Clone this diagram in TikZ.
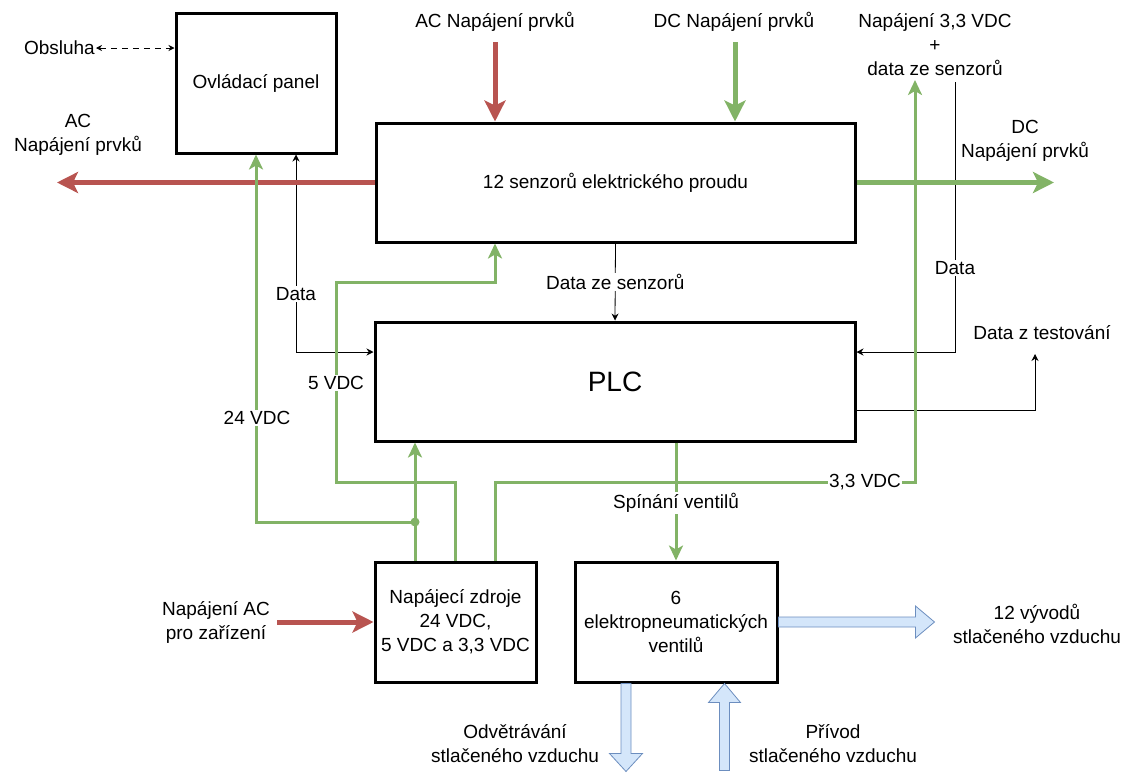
\documentclass[tikz,border=0pt]{standalone}
\usepackage{fontspec}
\setmainfont{Liberation Sans}
\usetikzlibrary{arrows.meta}

\definecolor{acred}{HTML}{B85450}
\definecolor{dcgreen}{HTML}{82B366}
\definecolor{airfill}{HTML}{D4E6FA}
\definecolor{airline}{HTML}{6C8EBF}

\begin{document}
\begin{tikzpicture}[x=1pt, y=-1pt,
    font=\fontsize{19pt}{24pt}\selectfont,
    box/.style={draw, line width=3pt, align=center, inner sep=2pt},
    lbl/.style={align=center, inner sep=1pt},
    onl/.style={fill=white, inner sep=1pt},
    acline/.style={acred, line width=5pt, -{Stealth[length=21pt, width=21pt, inset=5pt]}},
    dcline/.style={dcgreen, line width=5pt, -{Stealth[length=21pt, width=21pt, inset=5pt]}},
    dcthin/.style={dcgreen, line width=3pt, -{Stealth[length=15pt, width=14pt, inset=4pt]}},
    dtline/.style={line width=0.8pt, -{Stealth[length=7pt, width=7pt]}},
    air/.style={fill=airfill, draw=airline, line width=0.8pt}]
    \useasboundingbox (0,0) rectangle (1136,774);

    % bloky
    \node[box, minimum width=160pt, minimum height=140pt] (panel) at (256,83) {Ovládací panel};
    \node[box, minimum width=479pt, minimum height=119pt] (sens) at (615.5,182.5) {12 senzorů elektrického proudu};
    \node[box, minimum width=480pt, minimum height=119pt, font=\fontsize{28pt}{32pt}\selectfont] (plc) at (615,381.5) {PLC};
    \node[box, minimum width=161pt, minimum height=120pt] (psu) at (455.5,622) {Napájecí zdroje\\24 VDC,\\5 VDC a 3,3 VDC};
    \node[box, minimum width=202pt, minimum height=120pt] (valves) at (676,622) {6\\elektropneumatických\\ventilů};

    % popisky
    \node[lbl, anchor=east] (obs) at (96,48) {Obsluha};
    \node[lbl] (acoutlbl) at (78,135) {AC\\Napájení prvků};
    \node[lbl] (acinlbl) at (495,22) {AC Napájení prvků};
    \node[lbl] (dcinlbl) at (734,22) {DC Napájení prvků};
    \node[lbl] (senslbl) at (935,45) {Napájení 3,3 VDC\\+\\data ze senzorů};
    \node[lbl] (dcoutlbl) at (1025,141) {DC\\Napájení prvků};
    \node[lbl] (testlbl) at (1042,333) {Data z testování};
    \node[lbl] (mainslbl) at (216,622) {Napájení AC\\pro zařízení};
    \node[lbl] (ventlbl) at (515,744) {Odvětrávání\\stlačeného vzduchu};
    \node[lbl] (inlbl) at (833,744) {Přívod\\stlačeného vzduchu};
    \node[lbl] (outlbl) at (1037,624) {12 vývodů\\stlačeného vzduchu};

    \coordinate (acout) at (57,182.5);
    \coordinate (acin) at (495,42);
    \coordinate (dcin) at (735,42);
    \coordinate (dcout) at (1054,182.5);
    \coordinate (up33) at (915,80);
    \coordinate (dtop) at (955,82);
    \coordinate (dtest) at (1035,354);
    \coordinate (acmains) at (277,622);
    \coordinate (jn) at (415,522);

    % data
    \draw[line width=0.8pt, dash pattern=on 6pt off 5pt, {Stealth[length=6pt, width=6pt]}-{Stealth[length=6pt, width=6pt]}] (obs.east) -- (obs.east -| panel.west);
    \draw[dtline, {Stealth[length=7pt, width=7pt]}-{Stealth[length=7pt, width=7pt]}] ([xshift=40pt]panel.south) |- ([yshift=29.5pt]plc.west);
    \draw[dtline] (sens.south) -- (plc.north) node[midway, onl] {Data ze senzorů};
    \draw[dtline] (dtop) |- ([yshift=29.5pt]plc.east);
    \draw[dtline] ([yshift=-28.5pt]plc.east) -| (dtest);

    % AC a DC napajeni prvku
    \draw[acline] (sens.west) -- (acout);
    \draw[acline] (acin) -- (acin |- sens.north);
    \draw[dcline] (dcin) -- (dcin |- sens.north);
    \draw[dcline] (sens.east) -- (dcout);
    \draw[acline] (acmains) -- (psu.west);

    % zdroje
    \draw[dcthin] ([xshift=-40.5pt]psu.north) -- (jn) -- (jn |- plc.south);
    \draw[dcthin] (jn) -| (panel.south);
    \fill[dcgreen] (jn) circle (4.5pt);
    \draw[dcthin] (psu.north) |- (336,482) |- (495,282) -- (495,0 |- sens.south);
    \draw[dcthin] ([xshift=39.5pt]psu.north) |- (915,482) -- (up33);
    \draw[dcthin] ([xshift=61pt]plc.south) -- (valves.north);

    % vzduch
    \draw[air] (valves.east) ++(0,-5) -- ++(137,0) -- ++(0,-11) -- ++(19,16) -- ++(-19,16) -- ++(0,-11) -- ++(-137,0) -- cycle;
    \draw[air] ([xshift=-50pt]valves.south) ++(-5,0) -- ++(0,70) -- ++(-11.5,0) -- ++(16.5,18) -- ++(16.5,-18) -- ++(-11.5,0) -- ++(0,-70) -- cycle;
    \draw[air] ([xshift=48.5pt]valves.south) -- ++(16,19) -- ++(-11,0) -- ++(0,68) -- ++(-10,0) -- ++(0,-68) -- ++(-11,0) -- cycle;

    \node[onl] at (296,294) {Data};
    \node[onl] at (955,268) {Data};
    \node[onl] at (336,383) {5 VDC};
    \node[onl] at (257,418) {24 VDC};
    \node[onl] at (865,482) {3,3 VDC};
    \node[onl] at (676,503) {Spínání ventilů};
\end{tikzpicture}
\end{document}
